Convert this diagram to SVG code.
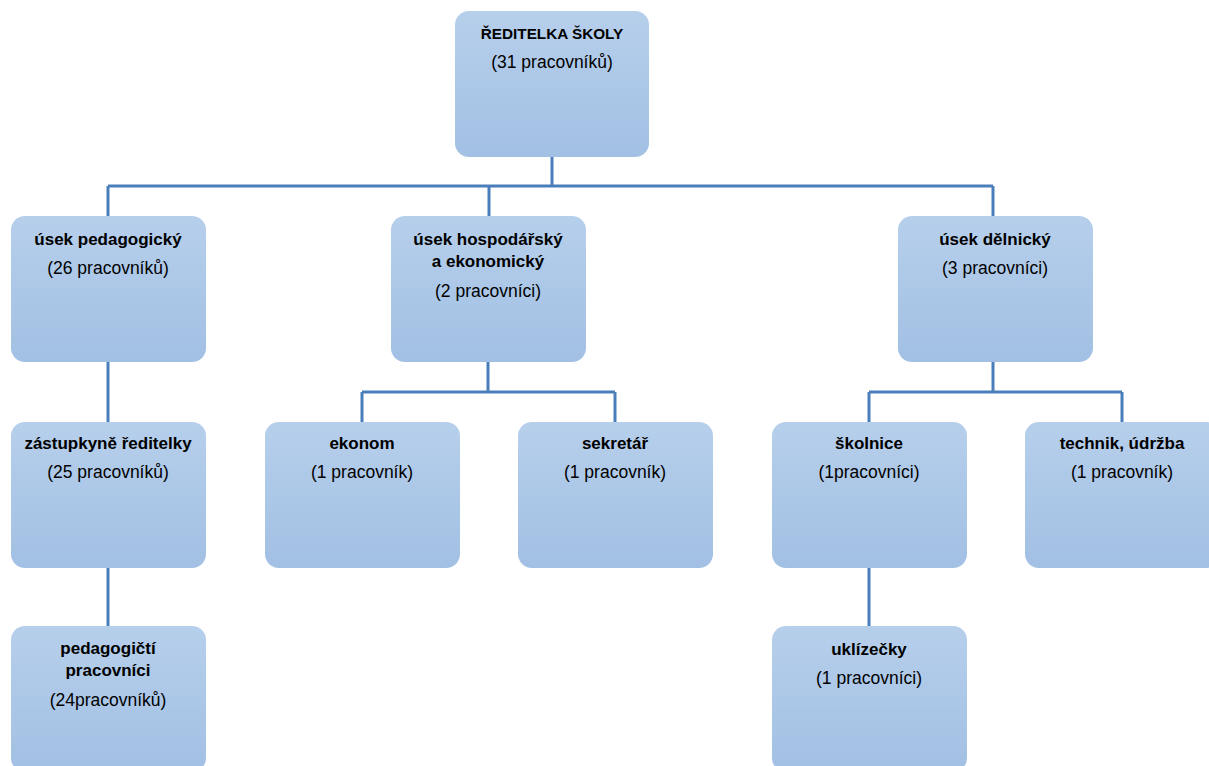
<svg xmlns="http://www.w3.org/2000/svg" width="1209" height="766" viewBox="0 0 1209 766">
<defs>
<linearGradient id="g" x1="0" y1="0" x2="0" y2="1">
<stop offset="0" stop-color="#b6cfeb"/>
<stop offset="1" stop-color="#a2c0e4"/>
</linearGradient>
</defs>
<style>
.box{fill:url(#g);stroke:none}
.b{font-family:"Liberation Sans",Arial,sans-serif;font-weight:bold;font-size:17px;fill:#000;text-anchor:middle}
.r{font-family:"Liberation Sans",Arial,sans-serif;font-size:17.5px;fill:#000;text-anchor:middle}
.c{fill:none;stroke:#4a7ebb;stroke-width:3}
</style>
<rect width="1209" height="766" fill="#fff"/>
<g id="connectors">
<path class="c" d="M552 157V186M108 186H993M108 186V216M489 186V216M993 186V216"/>
<path class="c" d="M108 362V422M108 568V626"/>
<path class="c" d="M488 362V392M362 392H615M362 392V422M615 392V422"/>
<path class="c" d="M993 362V392M869 392H1122M869 392V422M1122 392V422M869 568V626"/>
</g>
<g id="n-reditelka">
<rect class="box" x="455" y="11" width="194" height="146" rx="14"/>
<text class="b" x="552" y="39" style="font-size:15.3px">ŘEDITELKA ŠKOLY</text>
<text class="r" x="552" y="68">(31 pracovníků)</text>
</g>
<g id="n-pedagogicky">
<rect class="box" x="11" y="216" width="195" height="146" rx="14"/>
<text class="b" x="108" y="245">úsek pedagogický</text>
<text class="r" x="108" y="274">(26 pracovníků)</text>
</g>
<g id="n-hospodarsky">
<rect class="box" x="391" y="216" width="195" height="146" rx="14"/>
<text class="b" x="488" y="245">úsek hospodářský</text>
<text class="b" x="488" y="267">a ekonomický</text>
<text class="r" x="488" y="297">(2 pracovníci)</text>
</g>
<g id="n-delnicky">
<rect class="box" x="898" y="216" width="195" height="146" rx="14"/>
<text class="b" x="995" y="245">úsek dělnický</text>
<text class="r" x="995" y="274">(3 pracovníci)</text>
</g>
<g id="n-zastupkyne">
<rect class="box" x="11" y="422" width="195" height="146" rx="14"/>
<text class="b" x="108" y="449">zástupkyně ředitelky</text>
<text class="r" x="108" y="478">(25 pracovníků)</text>
</g>
<g id="n-ekonom">
<rect class="box" x="265" y="422" width="195" height="146" rx="14"/>
<text class="b" x="362" y="449">ekonom</text>
<text class="r" x="362" y="478">(1 pracovník)</text>
</g>
<g id="n-sekretar">
<rect class="box" x="518" y="422" width="195" height="146" rx="14"/>
<text class="b" x="615" y="449">sekretář</text>
<text class="r" x="615" y="478">(1 pracovník)</text>
</g>
<g id="n-skolnice">
<rect class="box" x="772" y="422" width="195" height="146" rx="14"/>
<text class="b" x="869" y="449">školnice</text>
<text class="r" x="869" y="478">(1pracovníci)</text>
</g>
<g id="n-technik">
<rect class="box" x="1025" y="422" width="195" height="146" rx="14"/>
<text class="b" x="1122" y="449">technik, údržba</text>
<text class="r" x="1122" y="478">(1 pracovník)</text>
</g>
<g id="n-pedagogicti">
<rect class="box" x="11" y="626" width="195" height="146" rx="14"/>
<text class="b" x="108" y="654">pedagogičtí</text>
<text class="b" x="108" y="676">pracovníci</text>
<text class="r" x="108" y="706">(24pracovníků)</text>
</g>
<g id="n-uklizecky">
<rect class="box" x="772" y="626" width="195" height="146" rx="14"/>
<text class="b" x="869" y="655">uklízečky</text>
<text class="r" x="869" y="684">(1 pracovníci)</text>
</g>
</svg>
